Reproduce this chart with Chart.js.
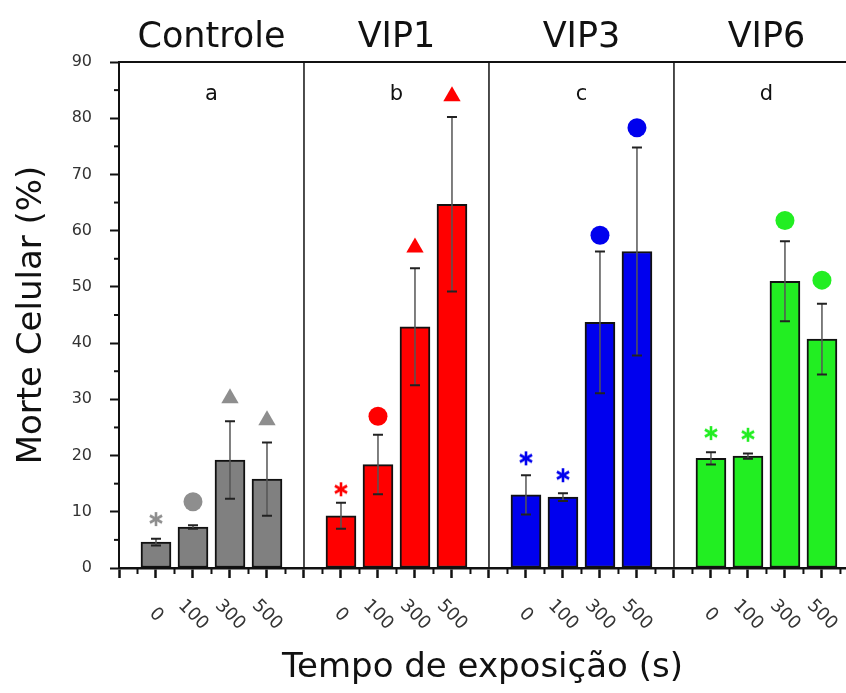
<!DOCTYPE html>
<html lang="pt">
<head>
<meta charset="UTF-8">
<title>Morte celular</title>
<script src="https://cdn.jsdelivr.net/npm/chart.js"></script>
<style>
  html, body { margin: 0; padding: 0; background: #fff; }
</style>
</head>
<body>
<canvas id="grafico" width="846" height="693"></canvas>
<script>
// Dados
const grupos = ['Controle', 'VIP1', 'VIP3', 'VIP6'];
const letras = ['a', 'b', 'c', 'd'];
const tempos = ['0', '100', '300', '500'];

const controle = [4.6, 7.3, 19.2, 15.8];
const vip1 = [9.3, 18.4, 42.9, 64.7];
const vip3 = [13.0, 12.6, 43.7, 56.3];
const vip6 = [19.5, 19.9, 51.0, 40.7];

const erroControle = [0.6, 0.3, 6.9, 6.5];
const erroVip1 = [2.3, 5.3, 10.4, 15.5];
const erroVip3 = [3.5, 0.7, 12.6, 18.5];
const erroVip6 = [1.1, 0.45, 7.1, 6.3];

// símbolos acima das barras (* = asterisco, o = círculo, ^ = triângulo) e sua altura
const simbControle = ['*', 'o', '^', '^'];
const simbVip1 = ['*', 'o', '^', '^'];
const simbVip3 = ['*', '*', 'o', 'o'];
const simbVip6 = ['*', '*', 'o', 'o'];

const alturaControle = [8.7, 11.8, 30.2, 26.3];
const alturaVip1 = [14.0, 27.0, 57.0, 83.9];
const alturaVip3 = [19.5, 16.5, 59.2, 78.3];
const alturaVip6 = [24.0, 23.7, 61.8, 51.2];

const coresBarra = ['#808080', '#ff0000', '#0000ee', '#22ee22'];
const coresSimb = ['#8e8e8e', '#ff0000', '#0000ee', '#22ee22'];

const medias = [controle, vip1, vip3, vip6];
const erros = [erroControle, erroVip1, erroVip3, erroVip6];
const simbolos = [simbControle, simbVip1, simbVip3, simbVip6];
const alturas = [alturaControle, alturaVip1, alturaVip3, alturaVip6];

// asterisco desenhado num canvas pequeno, usado como pointStyle
function asterisco(cor) {
    const c = document.createElement('canvas');
    c.width = 16; c.height = 16;
    const g = c.getContext('2d');
    g.strokeStyle = cor;
    g.lineWidth = 2.6;
    g.translate(8, 8);
    for (let k = 0; k < 3; k++) {
        g.beginPath();
        g.moveTo(0, -7);
        g.lineTo(0, 7);
        g.stroke();
        g.rotate(Math.PI / 3);
    }
    return c;
}

const barras = [], corBarras = [];
const marcas = [], estilos = [], corMarcas = [], raios = [];
medias.forEach((serie, g) => {
    const ast = asterisco(coresSimb[g]);
    serie.forEach((v, i) => {
        const x = g * 5 + i + 1;
        barras.push({ x: x, y: v, erro: erros[g][i] });
        corBarras.push(coresBarra[g]);
        marcas.push({ x: x, y: alturas[g][i] });
        const s = simbolos[g][i];
        estilos.push(s === '*' ? ast : (s === 'o' ? 'circle' : 'triangle'));
        raios.push(s === '^' ? 10 : 9.5);
        corMarcas.push(coresSimb[g]);
    });
});

const fonte = '"DejaVu Sans", Verdana, sans-serif';

const extras = {
    id: 'extras',
    afterDatasetDraw(chart, args) {
        if (args.index !== 0) return;
        const ctx = chart.ctx, xs = chart.scales.x, ys = chart.scales.y;
        ctx.save();
        barras.forEach(b => {
            const px = xs.getPixelForValue(b.x);
            const yt = ys.getPixelForValue(b.y + b.erro);
            const yb = ys.getPixelForValue(b.y - b.erro);
            ctx.strokeStyle = '#555';
            ctx.lineWidth = 1.5;
            ctx.beginPath(); ctx.moveTo(px, yt); ctx.lineTo(px, yb); ctx.stroke();
            ctx.strokeStyle = '#222';
            ctx.lineWidth = 2;
            ctx.beginPath();
            ctx.moveTo(px - 5, yt); ctx.lineTo(px + 5, yt);
            ctx.moveTo(px - 5, yb); ctx.lineTo(px + 5, yb);
            ctx.stroke();
        });
        ctx.restore();
    },
    afterDraw(chart) {
        const ctx = chart.ctx, xs = chart.scales.x, ys = chart.scales.y;
        const area = chart.chartArea;
        ctx.save();
        ctx.strokeStyle = '#111';
        // linha de cima e separadores dos painéis
        ctx.lineWidth = 2;
        ctx.beginPath(); ctx.moveTo(area.left - 1, area.top); ctx.lineTo(area.right, area.top); ctx.stroke();
        ctx.lineWidth = 1.5;
        [5, 10, 15].forEach(v => {
            const px = xs.getPixelForValue(v);
            ctx.beginPath(); ctx.moveTo(px, area.top); ctx.lineTo(px, area.bottom); ctx.stroke();
        });
        // ticks menores
        ctx.lineWidth = 2;
        for (let v = 5; v < 90; v += 10) {
            const py = ys.getPixelForValue(v);
            ctx.beginPath(); ctx.moveTo(area.left - 5, py); ctx.lineTo(area.left, py); ctx.stroke();
        }
        for (let v = 0.5; v < xs.max; v += 1) {
            const px = xs.getPixelForValue(v);
            ctx.beginPath(); ctx.moveTo(px, area.bottom); ctx.lineTo(px, area.bottom + 6); ctx.stroke();
        }
        // rótulos dos tempos, girados
        ctx.fillStyle = '#333';
        ctx.font = '18px ' + fonte;
        ctx.textAlign = 'center';
        ctx.textBaseline = 'middle';
        barras.forEach((b, k) => {
            ctx.save();
            ctx.translate(xs.getPixelForValue(b.x), 615);
            ctx.rotate(Math.PI / 4);
            ctx.fillText(tempos[k % 4], 0, 0);
            ctx.restore();
        });
        // títulos dos painéis e letras
        ctx.fillStyle = '#111';
        ctx.textBaseline = 'alphabetic';
        grupos.forEach((nome, g) => {
            const px = xs.getPixelForValue(g * 5 + 2.5);
            ctx.font = '35px ' + fonte;
            ctx.fillText(nome, px, 47);
            ctx.font = '21px ' + fonte;
            ctx.fillText(letras[g], px, 100);
        });
        ctx.restore();
    }
};

new Chart(document.getElementById('grafico'), {
    data: {
        datasets: [{
            type: 'bar',
            data: barras,
            backgroundColor: corBarras,
            borderColor: '#111',
            borderWidth: 2,
            borderSkipped: false,
            barThickness: 30,
            order: 2
        }, {
            type: 'scatter',
            data: marcas,
            pointStyle: estilos,
            pointRadius: raios,
            backgroundColor: corMarcas,
            borderColor: corMarcas,
            borderWidth: 0,
            order: 1
        }]
    },
    options: {
        responsive: false,
        animation: false,
        layout: { autoPadding: false, padding: { top: 62, left: 0, right: 0, bottom: 0 } },
        plugins: { legend: { display: false }, tooltip: { enabled: false } },
        scales: {
            x: {
                type: 'linear',
                offset: false,
                min: 0,
                max: 19.65,
                afterFit: s => { s.height = 125; },
                ticks: { stepSize: 1, includeBounds: false, display: false },
                grid: { offset: false, drawOnChartArea: false, tickLength: 10, tickWidth: 2.5, tickColor: '#111' },
                border: { color: '#111', width: 2.5 },
                title: {
                    display: true,
                    text: 'Tempo de exposição (s)',
                    color: '#111',
                    font: { family: fonte, size: 34 },
                    padding: { top: 0, bottom: 4 }
                }
            },
            y: {
                min: 0,
                max: 90,
                afterFit: s => { s.width = 119; },
                ticks: { stepSize: 10, padding: 18, color: '#333', font: { family: fonte, size: 16 } },
                grid: { drawOnChartArea: false, tickLength: 9, tickWidth: 2, tickColor: '#111' },
                border: { color: '#111', width: 2 },
                title: {
                    display: true,
                    text: 'Morte Celular (%)',
                    color: '#111',
                    font: { family: fonte, size: 34 },
                    padding: { top: 12, bottom: 0 }
                }
            }
        }
    },
    plugins: [extras]
});
</script>
</body>
</html>
